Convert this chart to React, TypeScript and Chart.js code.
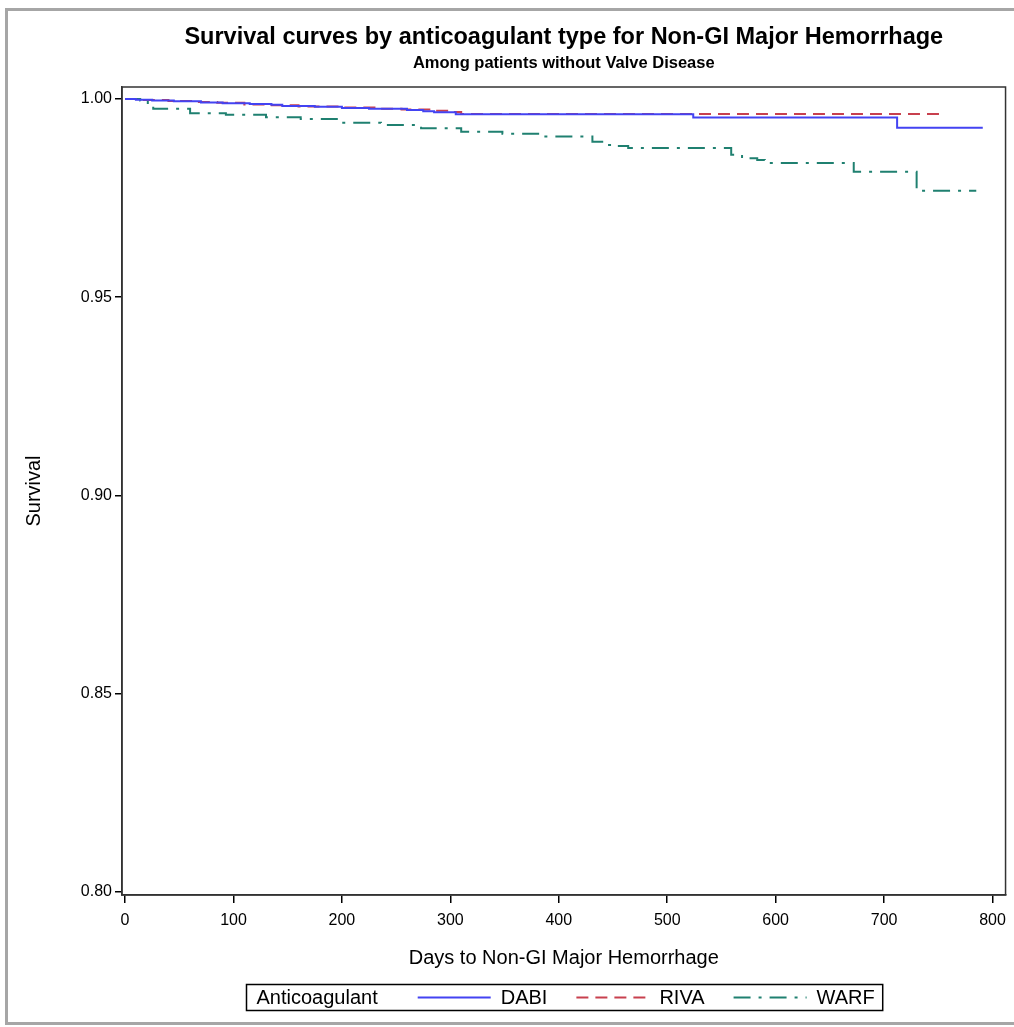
import React, { useEffect, useRef } from "react";
import { Chart, registerables } from "chart.js";

Chart.register(...registerables);

const chartTitle = "Survival curves by anticoagulant type for Non-GI Major Hemorrhage";
const chartSubtitle = "Among patients without Valve Disease";
const xAxisTitle = "Days to Non-GI Major Hemorrhage";
const yAxisTitle = "Survival";
const legendTitle = "Anticoagulant";

const xTicks = [0, 100, 200, 300, 400, 500, 600, 700, 800];
const yTicks = [0.8, 0.85, 0.9, 0.95, 1.0];

const seriesNames = ["DABI", "RIVA", "WARF"];

const dabiDays = [0, 10, 25, 45, 70, 90, 115, 135, 145, 175, 200, 225, 260, 275, 285, 305, 524, 712, 791];
const dabiSurv = [1.0, 0.9998, 0.9996, 0.9994, 0.9991, 0.9989, 0.9987, 0.9985, 0.9982, 0.998, 0.9977, 0.9975, 0.9972, 0.9969, 0.9966, 0.9961, 0.9953, 0.99275, 0.99275];

const rivaDays = [0, 15, 40, 65, 85, 110, 130, 160, 200, 230, 255, 285, 300, 310, 754];
const rivaSurv = [1.0, 0.9997, 0.9995, 0.9992, 0.999, 0.9986, 0.9984, 0.9981, 0.9978, 0.9975, 0.9973, 0.997, 0.9967, 0.9962, 0.9962];

const warfDays = [0, 14, 21, 26, 60, 93, 130, 162, 199, 236, 273, 310, 348, 385, 431, 443, 453, 464, 559, 569, 583, 590, 672, 730, 785];
const warfSurv = [1.0, 0.9996, 0.9985, 0.9975, 0.9964, 0.996, 0.9954, 0.9949, 0.994, 0.9934, 0.9926, 0.9917, 0.9912, 0.9905, 0.9892, 0.9884, 0.9881, 0.9876, 0.9859, 0.985, 0.9846, 0.9838, 0.9816, 0.9768, 0.9768];

const FONT = "'Liberation Sans', Arial, Helvetica, sans-serif";

const toPoints = (xs: number[], ys: number[]) => xs.map((x, i) => ({ x, y: ys[i] }));

const styles = [
  { color: "#4343f2", dash: [] as number[] },
  { color: "#c8404e", dash: [12, 7] },
  { color: "#1f8070", dash: [17, 8, 3, 8] },
];

const decorPlugin = {
  id: "decor",
  afterDraw(chart: any) {
    const { ctx, chartArea } = chart;
    const cx = (chartArea.left + chartArea.right) / 2;
    ctx.save();
    // frame
    ctx.strokeStyle = "#333";
    ctx.lineWidth = 1.5;
    ctx.strokeRect(chartArea.left, chartArea.top, chartArea.right - chartArea.left, chartArea.bottom - chartArea.top);
    // titles
    ctx.fillStyle = "#000";
    ctx.textAlign = "center";
    ctx.textBaseline = "middle";
    ctx.font = `bold 23.5px ${FONT}`;
    ctx.fillText(chartTitle, cx, 38);
    ctx.font = `bold 16.5px ${FONT}`;
    ctx.fillText(chartSubtitle, cx, 63);
    // legend
    ctx.font = `20px ${FONT}`;
    ctx.textAlign = "left";
    const padL = 10, padR = 8, gapTitle = 40, sample = 73, gapText = 10, gapItem = 29;
    const titleW = ctx.measureText(legendTitle).width;
    const widths = seriesNames.map((n) => ctx.measureText(n).width);
    let total = padL + titleW + gapTitle;
    widths.forEach((w, i) => {
      total += sample + gapText + w + (i < widths.length - 1 ? gapItem : 0);
    });
    total += padR;
    const boxL = Math.round(cx - total / 2) + 0.5;
    const boxT = 984.5, boxH = 26;
    ctx.strokeStyle = "#000";
    ctx.lineWidth = 1.5;
    ctx.strokeRect(boxL, boxT, total, boxH);
    const my = boxT + boxH / 2;
    let x = boxL + padL;
    ctx.fillStyle = "#000";
    ctx.fillText(legendTitle, x, my + 1);
    x += titleW + gapTitle;
    seriesNames.forEach((n, i) => {
      ctx.save();
      ctx.strokeStyle = styles[i].color;
      ctx.lineWidth = 2;
      ctx.setLineDash(styles[i].dash);
      ctx.beginPath();
      ctx.moveTo(x, my);
      ctx.lineTo(x + sample, my);
      ctx.stroke();
      ctx.restore();
      x += sample + gapText;
      ctx.fillText(n, x, my + 1);
      x += widths[i] + gapItem;
    });
    ctx.restore();
  },
};

export default function App() {
  const ref = useRef<HTMLCanvasElement | null>(null);
  useEffect(() => {
    if (!ref.current) return;
    const series = [toPoints(dabiDays, dabiSurv), toPoints(rivaDays, rivaSurv), toPoints(warfDays, warfSurv)];
    const chart = new Chart(ref.current, {
      type: "line",
      data: {
        datasets: seriesNames.map((name, i) => ({
          label: name,
          data: series[i],
          borderColor: styles[i].color,
          borderDash: styles[i].dash,
          borderWidth: 2,
          pointRadius: 0,
          stepped: true,
          fill: false,
        })),
      },
      options: {
        responsive: false,
        animation: false,
        layout: { padding: { left: 0, right: 8, top: 87, bottom: 0 } },
        plugins: { legend: { display: false }, tooltip: { enabled: false }, title: { display: false } },
        scales: {
          x: {
            type: "linear",
            min: -2.8,
            max: 812,
            afterFit: (s: any) => { s.height = 132; },
            afterBuildTicks: (s: any) => { s.ticks = xTicks.map((v) => ({ value: v })); },
            grid: { drawOnChartArea: false, drawTicks: true, tickLength: 8, color: "#000", lineWidth: 1.5 },
            border: { display: true, color: "#333", width: 1.5 },
            ticks: { color: "#000", font: { family: FONT, size: 16 }, padding: 8, maxRotation: 0, autoSkip: false },
            title: { display: true, text: xAxisTitle, color: "#000", font: { family: FONT, size: 20 }, padding: { top: 0, bottom: 57 } },
          },
          y: {
            type: "linear",
            min: 0.7992,
            max: 1.003,
            afterFit: (s: any) => { s.width = 122; },
            afterBuildTicks: (s: any) => { s.ticks = yTicks.map((v) => ({ value: v })); },
            grid: { drawOnChartArea: false, drawTicks: true, tickLength: 7, color: "#000", lineWidth: 1.5 },
            border: { display: true, color: "#333", width: 1.5 },
            ticks: { color: "#000", font: { family: FONT, size: 16 }, padding: 3, callback: (v: any) => Number(v).toFixed(2) },
            title: { display: true, text: yAxisTitle, color: "#000", font: { family: FONT, size: 20 }, padding: { top: 22, bottom: 0 } },
          },
        },
      },
      plugins: [decorPlugin],
    } as any);
    return () => chart.destroy();
  }, []);
  return (
    <div style={{ position: "absolute", left: 0, top: 0, width: 1014, height: 1027, overflow: "hidden", background: "#fff" }}>
      <canvas ref={ref} width={1014} height={1027} style={{ position: "absolute", left: 0, top: 0 }} />
      <div
        style={{
          position: "absolute",
          left: 5,
          top: 8,
          width: 1009,
          height: 1017,
          boxSizing: "border-box",
          borderTop: "3px solid #a6a6a6",
          borderLeft: "3px solid #a6a6a6",
          borderBottom: "3px solid #a6a6a6",
          pointerEvents: "none",
        }}
      />
    </div>
  );
}
